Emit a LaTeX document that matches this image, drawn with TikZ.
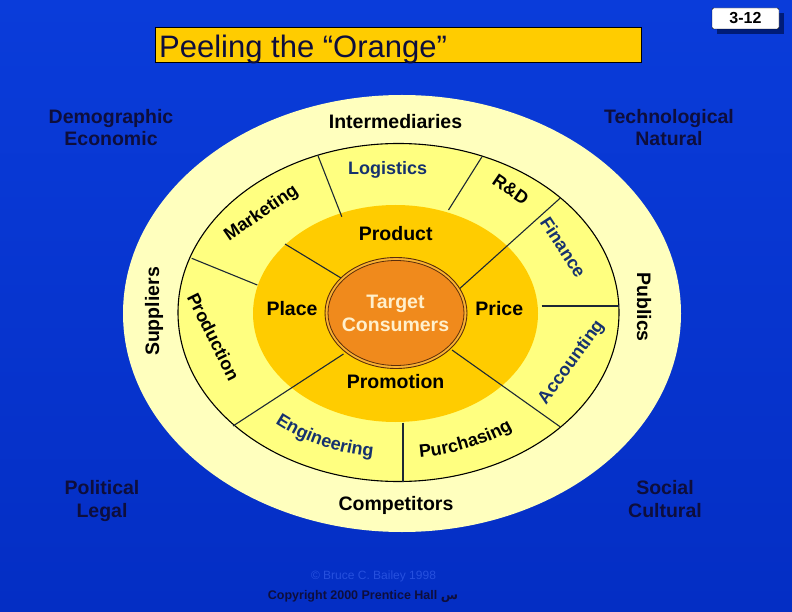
\documentclass[tikz,border=0pt]{standalone}
\usepackage{fontspec}
\setmainfont{Liberation Sans}
\newfontfamily\arabicfont[Script=Arabic]{DejaVu Sans}
\TeXXeTstate=1
\usetikzlibrary{decorations.text}

\definecolor{slideblue}{RGB}{10,60,218}
\definecolor{slidebluedark}{RGB}{4,46,196}
\definecolor{numshadow}{RGB}{0,28,120}
\definecolor{peel}{RGB}{255,255,190}
\definecolor{pith}{RGB}{255,255,128}
\definecolor{pulp}{RGB}{255,204,0}
\definecolor{corerim}{RGB}{250,178,50}
\definecolor{core}{RGB}{240,138,28}
\definecolor{coreline}{RGB}{90,45,10}
\definecolor{titlegold}{RGB}{255,204,0}
\definecolor{navy}{RGB}{14,14,60}
\definecolor{ringblue}{RGB}{22,50,110}
\definecolor{spokeline}{RGB}{28,40,52}
\definecolor{faintblue}{RGB}{38,80,222}
\definecolor{creamtext}{RGB}{255,240,205}

\newcommand\ringfont{\fontsize{18}{18}\selectfont\bfseries}

\tikzset{
  outerlabel/.style={font=\fontsize{19.5}{22.5}\selectfont\bfseries, inner sep=0pt, align=center},
  pulplabel/.style={font=\fontsize{19.5}{22.5}\selectfont\bfseries, inner sep=0pt, anchor=base},
  ringtext/.style={font=\ringfont, inner sep=0pt},
  divider/.style={draw=spokeline, line width=1.1pt},
  curved/.style={decorate, decoration={text along path, text align=center, text color=#1}},
}

\begin{document}
\begin{tikzpicture}[x=1pt,y=-1pt]
% slide background
\shade[top color=slideblue, bottom color=slidebluedark] (0,0) rectangle (792,612);
\useasboundingbox (0,0) rectangle (792,612);

% title bar and slide number
\node[draw=black, fill=titlegold, minimum width=486, minimum height=35.5, inner sep=0, anchor=north west] (titlebox) at (155,27) {};
\node[anchor=base west, font=\fontsize{31}{31}\selectfont, text=navy, inner sep=0] (title) at (159,58) {Peeling the “Orange”};
\fill[numshadow] (717,13) rectangle (784,34);
\node[draw=black, fill=white, rounded corners=2pt, minimum width=67, minimum height=21, inner sep=0,
      font=\fontsize{16}{16}\selectfont\bfseries] (slidenum) at (745.5,18.5) {3-12};

% the three layers of the orange
\fill[peel] (402,313.5) ellipse [x radius=279, y radius=218.5];
\filldraw[fill=pith, draw=black, line width=1.1pt] (398.5,312.5) ellipse [x radius=220.5, y radius=169];
\fill[pulp] (395.5,313.5) ellipse [x radius=142.5, y radius=108.5];

% segment lines
\draw[divider] (191.7,258.3) -- (257.3,285);
\draw[divider] (317.7,155) -- (341.8,216.7);
\draw[divider] (482,156.7) -- (448.5,210);
\draw[divider] (560,198.3) -- (457,291);
\draw[divider] (541.5,306) -- (619,306);
\draw[divider] (560,426.7) -- (452,350);
\draw[divider] (403,422.7) -- (403,481.7);
\draw[divider] (233,426) -- (343.5,354);
\draw[divider] (285,244) -- (341,278);

% target consumers
\filldraw[fill=corerim, draw=coreline, line width=0.9pt] (396,313) ellipse [x radius=71, y radius=55.5];
\filldraw[fill=core, draw=coreline, line width=0.8pt] (396,313) ellipse [x radius=68, y radius=52.5];
\node[outerlabel, text=creamtext, anchor=base] (target) at (395.5,331) {Target\\Consumers};

% marketing mix
\node[pulplabel] (product) at (395.7,240.7) {Product};
\node[pulplabel] (place) at (292,315) {Place};
\node[pulplabel] (price) at (499.3,315) {Price};
\node[pulplabel] (promotion) at (395.6,388.3) {Promotion};

% company departments
\node[ringtext, text=ringblue, anchor=base] (logistics) at (387.6,175) {Logistics};
\node[ringtext, rotate=34.5] (marketing) at (261.5,213.5) {Marketing};
\node[ringtext, rotate=-34.4] (rnd) at (510.7,189.3) {R\&D};
\node[ringtext, text=ringblue, rotate=-57] (finance) at (563.3,247.3) {Finance};
\node[ringtext, text=ringblue, rotate=54] (accounting) at (571.6,362.5) {Accounting};
\node[ringtext, rotate=-63.5] (production) at (213.5,336.7) {Production};
\path[curved=ringblue, decoration={text={|\ringfont|Engineering}}, shift={(398.5,312.5)}]
  (145:190 and 146) arc[start angle=145, end angle=85, x radius=190, y radius=146];
\path[curved=black, decoration={text={|\ringfont|Purchasing}}, shift={(398.5,312.5)}]
  (97:190 and 146) arc[start angle=97, end angle=38, x radius=190, y radius=146];

% micro environment
\node[outerlabel, anchor=base] (intermediaries) at (395.5,128.3) {Intermediaries};
\node[outerlabel, anchor=base] (competitors) at (396,510) {Competitors};
\node[outerlabel, rotate=90] (suppliers) at (154,311.5) {Suppliers};
\node[outerlabel, rotate=-90] (publics) at (644,307) {Publics};

% macro environment
\node[outerlabel, text=navy, anchor=base] (demographic) at (111,145.9) {Demographic\\Economic};
\node[outerlabel, text=navy, anchor=base] (technological) at (669,145.9) {Technological\\Natural};
\node[outerlabel, text=navy, anchor=base] (political) at (102,517.3) {Political\\Legal};
\node[outerlabel, text=navy, anchor=base] (social) at (665,517.3) {Social\\Cultural};

% footer
\node[font=\fontsize{12}{12}\selectfont, text=faintblue, inner sep=0] (credit) at (373.5,576) {© Bruce C. Bailey 1998};
\node[font=\fontsize{12.5}{12.5}\selectfont\bfseries, text=navy, inner sep=0, anchor=base] (copyright) at (363,599)
  {Copyright 2000 Prentice Hall {\arabicfont\beginR س\endR}};
\end{tikzpicture}
\end{document}
